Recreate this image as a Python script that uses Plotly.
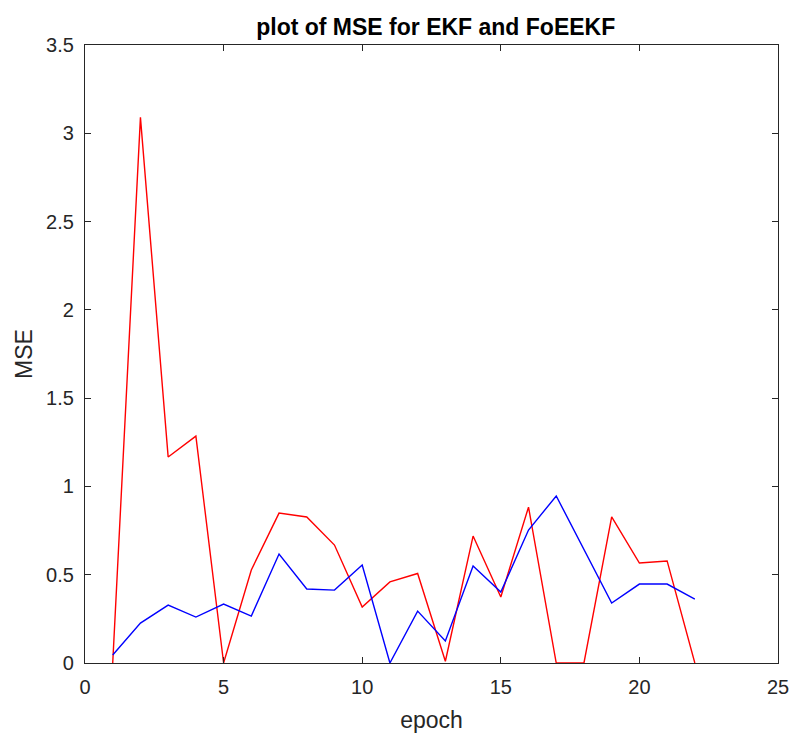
import plotly.graph_objects as go

epochs = list(range(1, 23))
ekf_mse = [0.0, 3.09, 1.167, 1.285, 0.0, 0.527, 0.849, 0.827, 0.668, 0.317, 0.459,
           0.507, 0.01, 0.719, 0.374, 0.883, 0.0, 0.0, 0.827, 0.566, 0.578, 0.0]
foeekf_mse = [0.045, 0.226, 0.328, 0.26, 0.334, 0.266, 0.617, 0.419, 0.413, 0.555, 0.0,
              0.294, 0.125, 0.549, 0.402, 0.753, 0.946, 0.645, 0.34, 0.447, 0.447, 0.362]
x_ticks = [0, 5, 10, 15, 20, 25]
y_ticks = [0, 0.5, 1, 1.5, 2, 2.5, 3, 3.5]

FONT = "Liberation Sans, Arial, Helvetica, sans-serif"

fig = go.Figure()
fig.add_trace(go.Scatter(x=epochs, y=ekf_mse, mode="lines", line=dict(color="#FF0000", width=1.4), showlegend=False))
fig.add_trace(go.Scatter(x=epochs, y=foeekf_mse, mode="lines", line=dict(color="#0000FF", width=1.4), showlegend=False))

axis_common = dict(showgrid=False, zeroline=False, showline=True, mirror="ticks", linecolor="#262626",
                   linewidth=1.3, ticks="inside", ticklen=6, tickcolor="#262626",
                   tickfont=dict(family=FONT, size=20, color="#262626"))
fig.update_xaxes(range=[0, 25], tickvals=x_ticks, ticktext=[str(t) for t in x_ticks],
                 ticklabelstandoff=6,
                 title=dict(text="epoch", font=dict(family=FONT, size=23, color="#262626"), standoff=14),
                 **axis_common)
fig.update_yaxes(range=[0, 3.5], tickvals=y_ticks, ticktext=[("%g" % t) for t in y_ticks],
                 ticklabelstandoff=6,
                 title=dict(text="MSE", font=dict(family=FONT, size=23, color="#262626"), standoff=6),
                 **axis_common)
fig.update_layout(
    width=801, height=740,
    margin=dict(l=85, r=14, t=45, b=77),
    plot_bgcolor="white", paper_bgcolor="white",
    title=dict(text="<b>plot of MSE for EKF and FoEEKF</b>", x=0.544, xanchor="center", y=0.964, yanchor="middle",
               font=dict(family=FONT, size=23, color="#000000")),
)
fig.write_html("out.html")
